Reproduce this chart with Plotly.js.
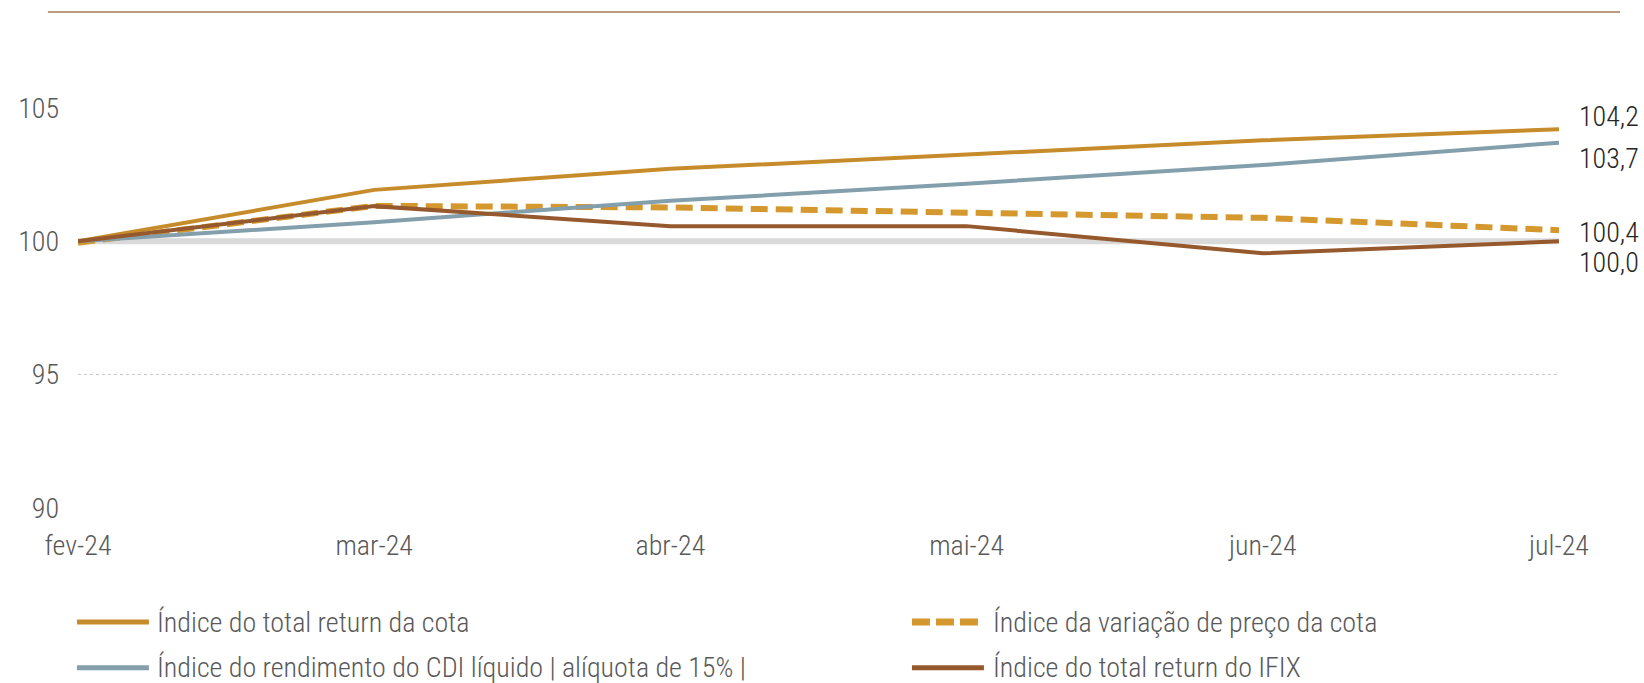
<!DOCTYPE html>
<html>
<head>
<meta charset="utf-8">
<script src="https://cdn.plot.ly/plotly-3.0.1.min.js"></script>
<style>
  html, body { margin: 0; padding: 0; background: #fff; }
  #chart { width: 1644px; height: 683px; }
</style>
</head>
<body>
<div id="chart"></div>
<script>
// ---- data ----
const categories = ['fev-24', 'mar-24', 'abr-24', 'mai-24', 'jun-24', 'jul-24'];
const totalReturnCota = [100, 101.93, 102.72, 103.27, 103.79, 104.2];
const variacaoPrecoCota = [99.95, 101.33, 101.27, 101.06, 100.88, 100.42];
const rendimentoCDI = [100, 100.72, 101.52, 102.16, 102.86, 103.7];
const totalReturnIFIX = [100, 101.32, 100.57, 100.57, 99.55, 100.0];
const baseLine = [100, 100, 100, 100, 100, 100];
const yTickValues = [90, 95, 100, 105];
const seriesNames = [
  'Índice do total return da cota',
  'Índice da variação de preço da cota',
  'Índice do rendimento do CDI líquido | alíquota de 15% |',
  'Índice do total return do IFIX'
];

const FONT = '"Liberation Sans Narrow", "Arial Narrow", "Roboto Condensed", "Liberation Sans", sans-serif';
const FS = 28;
const FW = 300;
const cGold = '#C68C2B';
const cGoldDash = '#D4982F';
const cCDI = '#849FAC';
const cIFIX = '#96592D';

const fmt = v => v.toFixed(1).replace('.', ',');

const traces = [
  { x: categories, y: baseLine, name: 'base', mode: 'lines',
    line: { color: '#D9D9D9', width: 6 } },
  { x: categories, y: variacaoPrecoCota, name: seriesNames[1], mode: 'lines',
    line: { color: cGoldDash, width: 6, dash: '17px,8px' } },
  { x: categories, y: rendimentoCDI, name: seriesNames[2], mode: 'lines',
    line: { color: cCDI, width: 4 } },
  { x: categories, y: totalReturnCota, name: seriesNames[0], mode: 'lines',
    line: { color: cGold, width: 4 } },
  { x: categories, y: totalReturnIFIX, name: seriesNames[3], mode: 'lines',
    line: { color: cIFIX, width: 4 } }
];
traces.forEach(t => { t.hoverinfo = 'skip'; t.showlegend = false; });

const last = categories.length - 1;
const endLabels = [
  { y: totalReturnCota[last], shift: 13 },
  { y: rendimentoCDI[last], shift: -16 },
  { y: variacaoPrecoCota[last], shift: -2 },
  { y: totalReturnIFIX[last], shift: -21 }
];

const annotations = endLabels.map(l => ({
  x: last, y: l.y, xref: 'x', yref: 'y', text: fmt(l.y),
  showarrow: false, xanchor: 'left', yanchor: 'middle',
  xshift: 18, yshift: l.shift,
  font: { family: FONT, size: FS, weight: FW, color: '#262626' }
}));

// custom legend (two columns)
const legendItems = [
  { name: seriesNames[0], color: cGold, dash: 'solid', width: 5, col: 0, row: 0 },
  { name: seriesNames[1], color: cGoldDash, dash: '18px,6px', width: 7, col: 1, row: 0 },
  { name: seriesNames[2], color: cCDI, dash: 'solid', width: 5, col: 0, row: 1 },
  { name: seriesNames[3], color: cIFIX, dash: 'solid', width: 5, col: 1, row: 1 }
];
const colX = [[-0.0007, 0.0479, 0.052], [0.5631, 0.6117, 0.6165]];
const rowY = [-0.285, -0.3995];

const shapes = [
  { type: 'line', xref: 'paper', yref: 'paper', x0: -0.0203, x1: 1.0412, y0: 1.24, y1: 1.24,
    line: { color: '#A57859', width: 1.5 } }
];
legendItems.forEach(it => {
  const c = colX[it.col], y = rowY[it.row];
  shapes.push({ type: 'line', xref: 'paper', yref: 'paper', x0: c[0], x1: c[1], y0: y, y1: y,
    line: { color: it.color, width: it.width, dash: it.dash } });
  annotations.push({ xref: 'paper', yref: 'paper', x: c[2], y: y, text: it.name,
    showarrow: false, xanchor: 'left', yanchor: 'middle',
    font: { family: FONT, size: FS, weight: FW, color: '#595959' } });
});

const layout = {
  width: 1644, height: 683,
  margin: { l: 78, r: 85, t: 108, b: 175 },
  paper_bgcolor: '#fff', plot_bgcolor: '#fff',
  showlegend: false,
  font: { family: FONT, size: FS, weight: FW, color: '#595959' },
  xaxis: {
    type: 'category', range: [0, last], showgrid: false, zeroline: false,
    showline: false, ticks: '', ticklabelstandoff: 18,
    tickfont: { family: FONT, size: FS, weight: FW, color: '#595959' },
    fixedrange: true
  },
  yaxis: {
    range: [90, 105], tickvals: yTickValues, ticktext: yTickValues.map(String),
    showgrid: true, gridcolor: '#C8C8C8', gridwidth: 1, griddash: 'dot',
    zeroline: false, showline: false, ticks: '', ticklabelstandoff: 18,
    tickfont: { family: FONT, size: FS, weight: FW, color: '#595959' }, fixedrange: true
  },
  shapes: shapes,
  annotations: annotations
};

Plotly.newPlot('chart', traces, layout, { displayModeBar: false, staticPlot: true });
</script>
</body>
</html>
